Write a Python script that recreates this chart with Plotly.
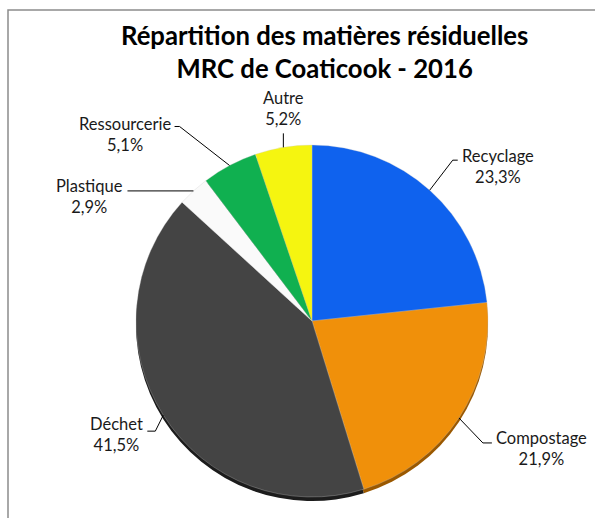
import math
import plotly.graph_objects as go

# ---- data ----
categories = ["Recyclage", "Compostage", "Déchet", "Plastique", "Ressourcerie", "Autre"]
values = [23.3, 21.9, 41.5, 2.9, 5.1, 5.2]
labels_pct = ["23,3%", "21,9%", "41,5%", "2,9%", "5,1%", "5,2%"]
colors = ["#0F62EE", "#F0900A", "#444444", "#FAFAFA", "#10B050", "#F5F510"]
shadow_colors = ["#0A3F9E", "#9A5800", "#1C1C1C", "#B8B8B8", "#0A7034", "#A8A800"]
title_lines = ["Répartition des matières résiduelles", "MRC de Coaticook - 2016"]

# ---- layout constants (pixels) ----
W, H = 595, 518
CX, CY, R = 312, 321, 176
SHADOW = 4
# elbow offset from slice edge point, horizontal stub, label side
elbow_off = [(23, -30), (24, 25), (-8, 16), (-66, 0), (-50, -39), (0, -14)]
stub = [5, 9, -8, 0, -5, 0]
text_dy = [6, 6, 3, 6, 8, None]

def px(x):
    return x / W

def py(y):
    return 1 - y / H

fig = go.Figure()

# shadow pie (3D rim)
fig.add_trace(go.Pie(
    labels=categories, values=values, sort=False, direction="clockwise", rotation=0,
    marker=dict(colors=shadow_colors, line=dict(width=0)),
    textinfo="none", hoverinfo="skip", showlegend=False,
    domain=dict(x=[px(CX - R), px(CX + R)], y=[py(CY + R + SHADOW), py(CY - R + SHADOW)]),
))
# main pie
fig.add_trace(go.Pie(
    labels=categories, values=values, sort=False, direction="clockwise", rotation=0,
    marker=dict(colors=colors, line=dict(color="rgba(200,200,200,0.6)", width=0.5)),
    textinfo="none", showlegend=False,
    domain=dict(x=[px(CX - R), px(CX + R)], y=[py(CY + R), py(CY - R)]),
))

total = sum(values)
cum = 0
annotations = []
shapes = []
for i, (cat, v) in enumerate(zip(categories, values)):
    mid = (cum + v / 2) / total * 2 * math.pi
    cum += v
    ax = CX + R * math.sin(mid)
    ay = CY - R * math.cos(mid)
    ex, ey = ax + elbow_off[i][0], ay + elbow_off[i][1]
    sx = ex + stub[i]
    shapes.append(dict(
        type="path", xref="paper", yref="paper",
        path=f"M {px(ax)} {py(ay)} L {px(ex)} {py(ey)} L {px(sx)} {py(ey)}",
        line=dict(color="#000000", width=1),
    ))
    text = f"{cat}<br>{labels_pct[i]}"
    if text_dy[i] is None:
        annotations.append(dict(x=px(ex), y=py(ey - 2), xref="paper", yref="paper",
                                text=text, showarrow=False, xanchor="center",
                                yanchor="bottom", align="center"))
    elif sx >= ax:
        annotations.append(dict(x=px(sx + 2), y=py(ey + text_dy[i]), xref="paper", yref="paper",
                                text=text, showarrow=False, xanchor="left",
                                yanchor="middle", align="center"))
    else:
        annotations.append(dict(x=px(sx - 2), y=py(ey + text_dy[i]), xref="paper", yref="paper",
                                text=text, showarrow=False, xanchor="right",
                                yanchor="middle", align="center"))

for a in annotations:
    a["font"] = dict(family="Lato, sans-serif", size=16.5, color="#1a1a1a")

# title
annotations.append(dict(
    x=px(324), y=py(18), xref="paper", yref="paper", showarrow=False,
    text="<b>" + "<br>".join(title_lines) + "</b>",
    xanchor="center", yanchor="top", align="center",
    font=dict(family="Lato, sans-serif", size=25.7, color="#000000"),
))

# chart frame
shapes.append(dict(type="rect", xref="paper", yref="paper",
                   x0=px(8), y0=py(H + 20), x1=px(W + 20), y1=py(10),
                   line=dict(color="#8C8C8C", width=1.5), layer="below"))

fig.update_layout(
    width=W, height=H,
    margin=dict(l=0, r=0, t=0, b=0),
    paper_bgcolor="white", plot_bgcolor="white",
    annotations=annotations, shapes=shapes,
    showlegend=False,
)

fig.write_html(
    "out.html",
    config={"displayModeBar": False},
    post_script="document.body.style.margin='0';document.body.style.overflow='hidden';",
)
